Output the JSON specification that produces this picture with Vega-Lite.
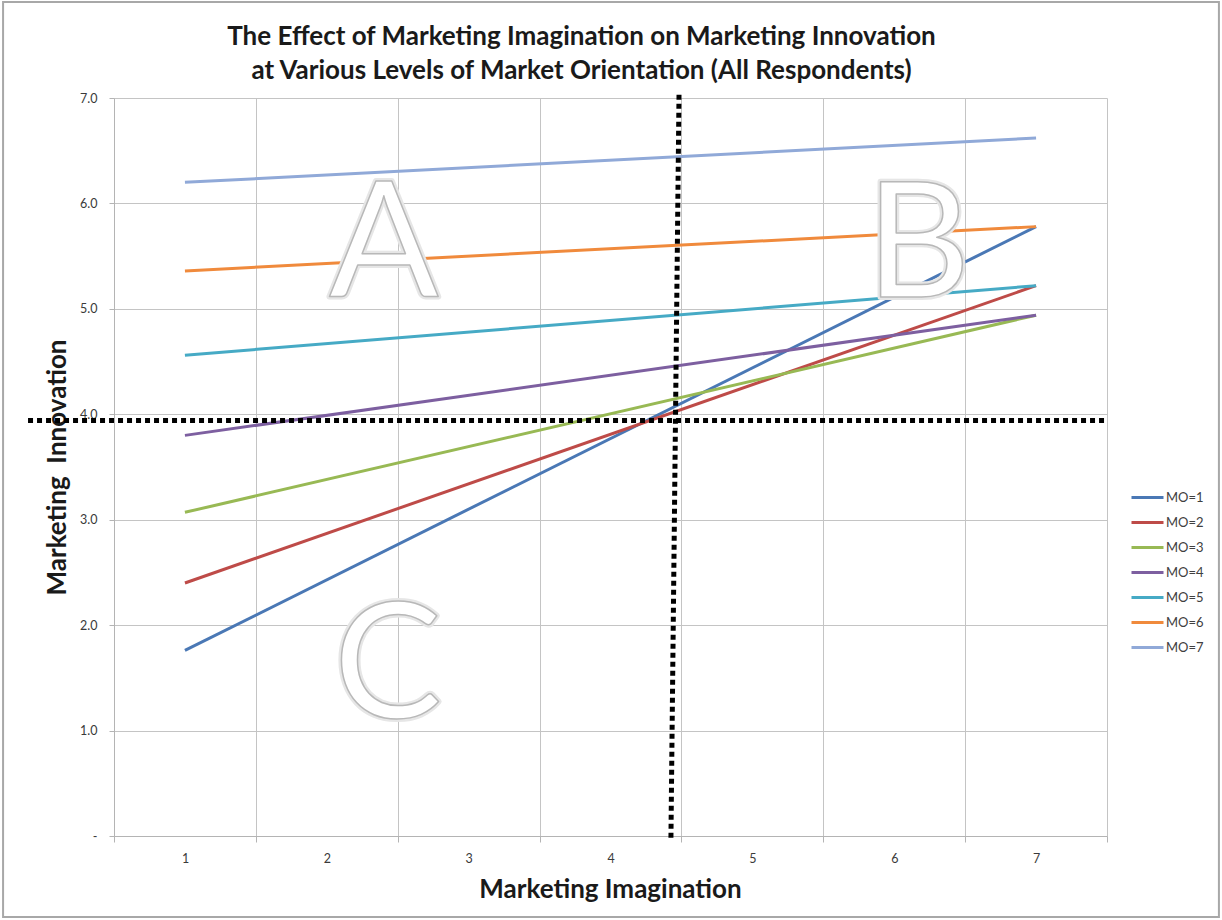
{
  "$schema": "https://vega.github.io/schema/vega-lite/v6.json",
  "autosize": "none",
  "width": 993,
  "height": 738,
  "padding": {"left": 114, "top": 98, "right": 115, "bottom": 84},
  "background": "white",
  "title": {
    "text": ["The Effect of Marketing Imagination on Marketing Innovation", "at Various Levels of Market Orientation (All Respondents)"],
    "font": "Lato",
    "fontSize": 26,
    "fontWeight": "bold",
    "color": "#1a1a1a",
    "lineHeight": 34,
    "anchor": "middle",
    "frame": "group",
    "dx": -29,
    "dy": 93,
    "offset": 10
  },
  "config": {
    "view": {"stroke": null},
    "font": "Lato",
    "axis": {
      "gridColor": "#c4c4c4",
      "gridWidth": 1,
      "domainColor": "#b4b4b4",
      "tickColor": "#b4b4b4",
      "labelColor": "#3a3a3a",
      "labelFont": "Lato",
      "labelFontSize": 12.5,
      "titleFont": "Lato",
      "titleFontSize": 26,
      "titleFontWeight": "bold",
      "titleColor": "#1a1a1a"
    }
  },
  "layer": [
    {
      "data": {
        "values": [
          {"series": "MO=1", "imagination": 1, "innovation": 1.76},
          {"series": "MO=1", "imagination": 7, "innovation": 5.78},
          {"series": "MO=2", "imagination": 1, "innovation": 2.40},
          {"series": "MO=2", "imagination": 7, "innovation": 5.22},
          {"series": "MO=3", "imagination": 1, "innovation": 3.07},
          {"series": "MO=3", "imagination": 7, "innovation": 4.94},
          {"series": "MO=4", "imagination": 1, "innovation": 3.80},
          {"series": "MO=4", "imagination": 7, "innovation": 4.94},
          {"series": "MO=5", "imagination": 1, "innovation": 4.56},
          {"series": "MO=5", "imagination": 7, "innovation": 5.22},
          {"series": "MO=6", "imagination": 1, "innovation": 5.36},
          {"series": "MO=6", "imagination": 7, "innovation": 5.78},
          {"series": "MO=7", "imagination": 1, "innovation": 6.20},
          {"series": "MO=7", "imagination": 7, "innovation": 6.62}
        ]
      },
      "mark": {"type": "line", "strokeWidth": 3},
      "encoding": {
        "x": {
          "field": "imagination",
          "type": "quantitative",
          "scale": {"domain": [0.5, 7.5], "nice": false, "zero": false},
          "axis": {
            "values": [0.5, 1.5, 2.5, 3.5, 4.5, 5.5, 6.5, 7.5],
            "grid": true,
            "tickSize": 6,
            "labelExpr": "datum.value < 7 ? format(datum.value + 0.5, 'd') : ''",
            "labelOffset": 71,
            "labelPadding": 10,
            "labelFlush": false,
            "labelOverlap": false,
            "title": "Marketing Imagination",
            "titleX": 496,
            "titleY": 61,
            "titleBaseline": "alphabetic",
            "titleAnchor": null
          }
        },
        "y": {
          "field": "innovation",
          "type": "quantitative",
          "scale": {"domain": [0, 7], "nice": false, "zero": true},
          "axis": {
            "values": [0, 1, 2, 3, 4, 5, 6, 7],
            "grid": true,
            "tickSize": 5,
            "labelPadding": 12,
            "labelExpr": "datum.value == 0 ? '-' : format(datum.value, '.1f')",
            "title": "Marketing\u00a0 Innovation",
            "titleX": -57,
            "titleY": 369,
            "titleAngle": -90,
            "titleAlign": "center",
            "titleBaseline": "middle"
          }
        },
        "color": {
          "field": "series",
          "type": "nominal",
          "scale": {
            "domain": ["MO=1", "MO=2", "MO=3", "MO=4", "MO=5", "MO=6", "MO=7"],
            "range": ["#4A78B5", "#BE4B48", "#98B954", "#7D5FA0", "#46AAC5", "#F08A3C", "#90A9D8"]
          },
          "legend": {
            "title": null,
            "orient": "none",
            "legendX": 1016,
            "legendY": 382,
            "padding": 0,
            "symbolType": "stroke",
            "symbolSize": 1024,
            "symbolStrokeWidth": 3,
            "rowPadding": -3,
            "labelOffset": 1,
            "labelFont": "Lato",
            "labelFontSize": 13,
            "labelColor": "#404040"
          }
        }
      }
    },
    {
      "data": {"values": [{"ref": "horizontal"}]},
      "mark": {"type": "rule", "color": "black", "strokeWidth": 5, "strokeDash": [5, 4], "strokeCap": "butt"},
      "encoding": {
        "x": {"datum": -0.106, "type": "quantitative"},
        "x2": {"datum": 7.5},
        "y": {"datum": 3.94, "type": "quantitative"}
      }
    },
    {
      "data": {"values": [{"ref": "vertical"}]},
      "mark": {"type": "rule", "color": "black", "strokeWidth": 5, "strokeDash": [5, 4], "strokeCap": "butt"},
      "encoding": {
        "x": {"datum": 4.483, "type": "quantitative"},
        "x2": {"datum": 4.426},
        "y": {"datum": 7.03, "type": "quantitative"},
        "y2": {"datum": -0.02}
      }
    },
    {
      "data": {
        "values": [
          {"letter": "A", "lx": 2.403, "ly": 5.11},
          {"letter": "B", "lx": 6.168, "ly": 5.11},
          {"letter": "C", "lx": 2.431, "ly": 1.12}
        ]
      },
      "layer": [
        {
          "mark": {"type": "text", "font": "Lato", "fontSize": 162, "align": "center", "baseline": "alphabetic", "fill": "white", "stroke": "#e6e6e6", "strokeWidth": 6, "strokeJoin": "round"},
          "encoding": {
            "x": {"field": "lx", "type": "quantitative"},
            "y": {"field": "ly", "type": "quantitative"},
            "text": {"field": "letter"}
          }
        },
        {
          "mark": {"type": "text", "font": "Lato", "fontSize": 162, "align": "center", "baseline": "alphabetic", "fill": "white", "stroke": "#b8b8b8", "strokeWidth": 1.5, "strokeJoin": "round"},
          "encoding": {
            "x": {"field": "lx", "type": "quantitative"},
            "y": {"field": "ly", "type": "quantitative"},
            "text": {"field": "letter"}
          }
        }
      ]
    },
    {
      "data": {"values": [{"ref": "frame"}]},
      "mark": {"type": "rect", "fill": null, "fillOpacity": 0, "stroke": "#a8a8a8", "strokeWidth": 2},
      "encoding": {
        "x": {"datum": -0.282, "type": "quantitative"},
        "x2": {"datum": 8.289},
        "y": {"datum": 7.91, "type": "quantitative"},
        "y2": {"datum": -0.768}
      }
    }
  ]
}
